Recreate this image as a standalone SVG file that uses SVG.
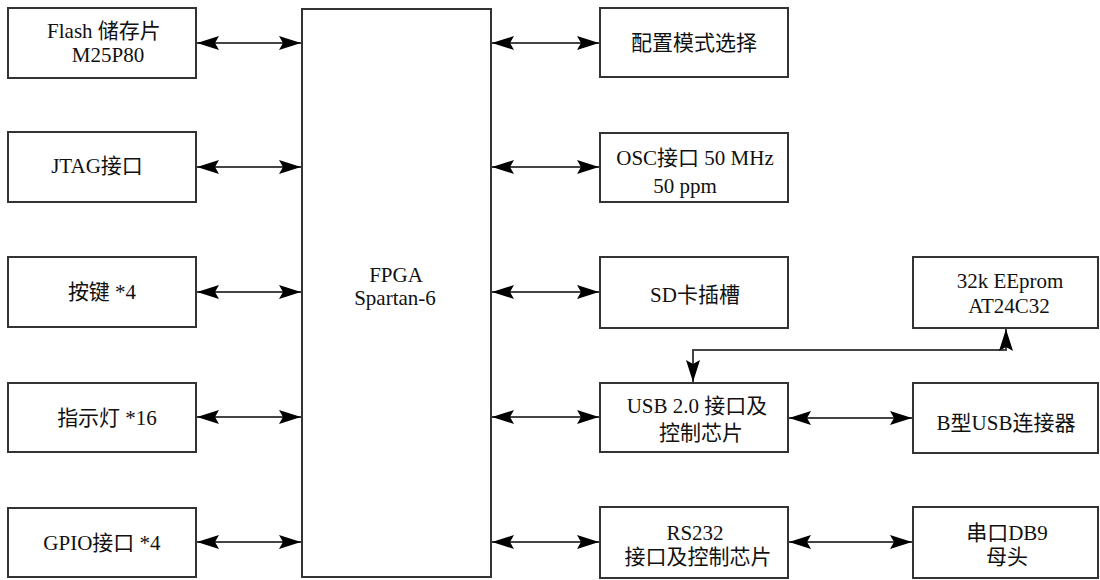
<svg xmlns="http://www.w3.org/2000/svg" width="1100" height="580" viewBox="0 0 1100 580">
<defs>
<style>
.box{fill:#fff;stroke:#333;stroke-width:2}
.t{font-family:"Liberation Serif","Noto Sans CJK SC",serif;font-size:21px;fill:#111;text-anchor:middle}
.ln{fill:none;stroke:#444;stroke-width:2;marker-start:url(#ah);marker-end:url(#ah)}
</style>
<marker id="ah" viewBox="0 0 22 14" refX="22" refY="7" markerWidth="22" markerHeight="14" markerUnits="userSpaceOnUse" orient="auto-start-reverse">
<path d="M0,0 L22,7 L0,14 L4,7 Z" fill="#000"/>
</marker>
</defs>
<rect width="1100" height="580" fill="#fff"/>
<g id="connectors">
<line class="ln" x1="197" y1="43" x2="301" y2="43"/>
<line class="ln" x1="197" y1="167" x2="301" y2="167"/>
<line class="ln" x1="197" y1="292" x2="301" y2="292"/>
<line class="ln" x1="197" y1="417" x2="301" y2="417"/>
<line class="ln" x1="197" y1="542" x2="301" y2="542"/>
<line class="ln" x1="492" y1="43" x2="599" y2="43"/>
<line class="ln" x1="492" y1="167" x2="599" y2="167"/>
<line class="ln" x1="492" y1="292" x2="599" y2="292"/>
<line class="ln" x1="492" y1="417" x2="599" y2="417"/>
<line class="ln" x1="492" y1="542" x2="599" y2="542"/>
<line class="ln" x1="789" y1="418" x2="912" y2="418"/>
<line class="ln" x1="789" y1="542" x2="912" y2="542"/>
<polyline class="ln" points="693,382 693,350 1006,350 1006,329"/>
</g>
<g id="flash"><rect class="box" x="8" y="8" width="188" height="70"/><text class="t" x="104" y="38">Flash 储存片</text><text class="t" x="108" y="62">M25P80</text></g>
<g id="jtag"><rect class="box" x="8" y="132" width="188" height="70"/><text class="t" x="97" y="173">JTAG接口</text></g>
<g id="keys"><rect class="box" x="8" y="257" width="188" height="70"/><text class="t" x="102" y="299">按键 *4</text></g>
<g id="leds"><rect class="box" x="8" y="383" width="188" height="69"/><text class="t" x="107" y="425">指示灯 *16</text></g>
<g id="gpio"><rect class="box" x="8" y="508" width="188" height="69"/><text class="t" x="102" y="550">GPIO接口 *4</text></g>
<g id="fpga"><rect class="box" x="302" y="9" width="189" height="568"/><text class="t" x="396" y="282">FPGA</text><text class="t" x="395" y="305">Spartan-6</text></g>
<g id="config"><rect class="box" x="600" y="8" width="188" height="69"/><text class="t" x="694" y="50">配置模式选择</text></g>
<g id="osc"><rect class="box" x="600" y="133" width="188" height="69"/><text class="t" x="695" y="165">OSC接口 50 MHz</text><text class="t" x="685" y="193">50 ppm</text></g>
<g id="sd"><rect class="box" x="600" y="257" width="188" height="71"/><text class="t" x="695" y="302">SD卡插槽</text></g>
<g id="usb"><rect class="box" x="600" y="383" width="188" height="69"/><text class="t" x="697" y="413">USB 2.0 接口及</text><text class="t" x="701" y="440">控制芯片</text></g>
<g id="rs232"><rect class="box" x="600" y="507" width="188" height="71"/><text class="t" x="695" y="540">RS232</text><text class="t" x="698" y="564">接口及控制芯片</text></g>
<g id="eeprom"><rect class="box" x="913" y="257" width="185" height="71"/><text class="t" x="1010" y="288">32k EEprom</text><text class="t" x="1009" y="313">AT24C32</text></g>
<g id="busb"><rect class="box" x="913" y="383" width="185" height="70"/><text class="t" x="1006" y="430">B型USB连接器</text></g>
<g id="db9"><rect class="box" x="913" y="507" width="185" height="71"/><text class="t" x="1007" y="540">串口DB9</text><text class="t" x="1007" y="564">母头</text></g>
</svg>
